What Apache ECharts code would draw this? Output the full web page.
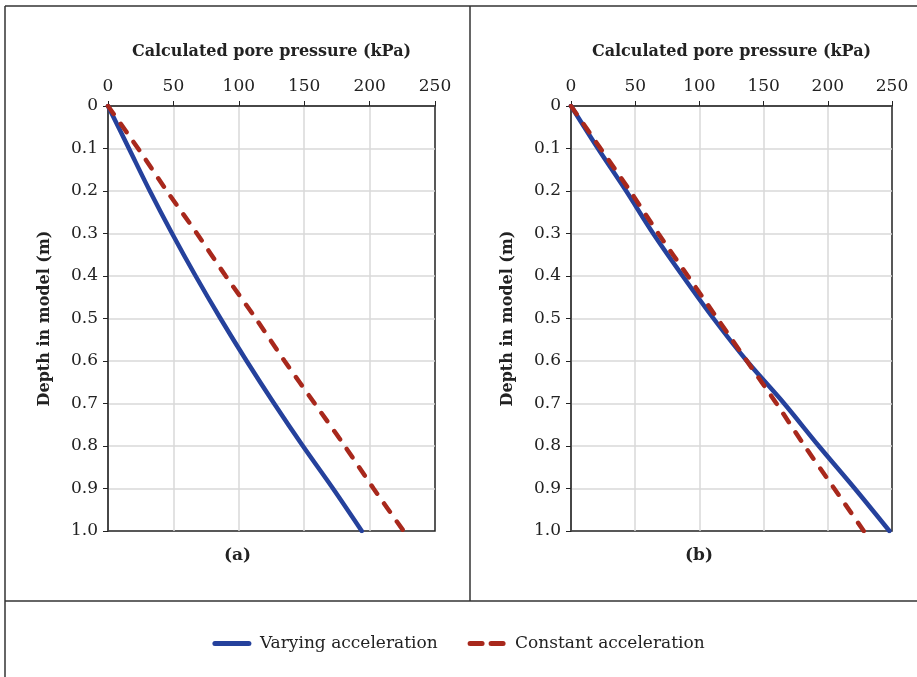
<!DOCTYPE html>
<html>
<head>
<meta charset="utf-8">
<script src="https://cdn.jsdelivr.net/npm/echarts@6/dist/echarts.min.js"></script>
<style>
html,body{margin:0;padding:0;background:#fff;}
#chart{width:917px;height:677px;}
</style>
</head>
<body>
<div id="chart"></div>
<script>
// Data
var depths = [0, 0.1, 0.2, 0.3, 0.4, 0.5, 0.6, 0.7, 0.8, 0.9, 1.0];
var varyingA = [0, 16, 32, 49, 67, 86, 106, 127, 149, 172, 194];
var constantA = [0, 23, 45, 68, 90, 113, 135, 158, 181, 203, 226];
var varyingB = [0, 21, 43, 64, 87, 111, 137, 166, 193, 221, 248];
var constantB = [0, 23, 46, 68, 91, 114, 137, 160, 182, 205, 228];
var seriesNames = ['Varying acceleration', 'Constant acceleration'];
var panelLabels = ['(a)', '(b)'];
var xTitle = 'Calculated pore pressure (kPa)';
var yTitle = 'Depth in model (m)';

var FONT = '"DejaVu Serif", serif';
var BLUE = '#25419c';
var RED = '#a8281c';

function pairs(xs) { return xs.map(function (v, i) { return [v, depths[i]]; }); }

function xAxis(gi) {
  return {
    gridIndex: gi, type: 'value', position: 'top', min: 0, max: 250, interval: 50,
    name: xTitle, nameLocation: 'middle', nameGap: 46, nameMoveOverlap: false,
    nameTextStyle: { fontFamily: FONT, fontSize: 16, fontWeight: 'bold', color: '#222' },
    axisLine: { show: true, onZero: false, lineStyle: { color: '#222', width: 1.5 } },
    axisTick: { show: true, inside: false, length: 5, lineStyle: { color: '#222' } },
    axisLabel: { fontFamily: FONT, fontSize: 17, color: '#222', margin: 11 },
    splitLine: { show: true, showMaxLine: false, lineStyle: { color: '#d9d9d9', width: 1.5 } }
  };
}
function yAxis(gi) {
  return {
    gridIndex: gi, type: 'value', inverse: true, min: 0, max: 1, interval: 0.1,
    name: yTitle, nameLocation: 'middle', nameGap: 55, nameRotate: 90, nameMoveOverlap: false,
    nameTextStyle: { fontFamily: FONT, fontSize: 16, fontWeight: 'bold', color: '#222' },
    axisLine: { show: true, onZero: false, lineStyle: { color: '#222', width: 1.5 } },
    axisTick: { show: true, inside: false, length: 5, lineStyle: { color: '#222' } },
    axisLabel: { fontFamily: FONT, fontSize: 17, color: '#222', margin: 10,
      formatter: function (v) { return v === 0 ? '0' : v.toFixed(1); } },
    splitLine: { show: true, showMaxLine: false, lineStyle: { color: '#d9d9d9', width: 1.5 } }
  };
}
function blueSeries(gi, data) {
  return { name: seriesNames[0], type: 'line', xAxisIndex: gi, yAxisIndex: gi, data: pairs(data),
    symbol: 'none', smooth: 0.3, lineStyle: { color: BLUE, width: 4.5, cap: 'round' }, itemStyle: { color: BLUE }, z: 3 };
}
function redSeries(gi, data) {
  return { name: seriesNames[1], type: 'line', xAxisIndex: gi, yAxisIndex: gi, data: pairs(data),
    symbol: 'none', smooth: 0.3, lineStyle: { color: RED, width: 4.5, type: [10, 12], cap: 'round' }, itemStyle: { color: RED }, z: 4 };
}

var lineStyle = { stroke: '#333', lineWidth: 1.5 };
var chart = echarts.init(document.getElementById('chart'), null, { renderer: 'canvas' });
chart.setOption({
  backgroundColor: '#fff',
  animation: false,
  grid: [
    { left: 108, right: 482, top: 106, bottom: 146, show: true, borderColor: '#222', borderWidth: 1.5, backgroundColor: 'transparent' },
    { left: 571, right: 25, top: 106, bottom: 146, show: true, borderColor: '#222', borderWidth: 1.5, backgroundColor: 'transparent' }
  ],
  xAxis: [xAxis(0), xAxis(1)],
  yAxis: [yAxis(0), yAxis(1)],
  legend: {
    data: [
      { name: seriesNames[0] },
      { name: seriesNames[1], lineStyle: { type: [12, 9] } }
    ],
    left: 'center', top: 630, itemWidth: 34, itemHeight: 10, itemGap: 30,
    itemStyle: { opacity: 0 },
    lineStyle: { width: 5, cap: 'round' },
    textStyle: { fontFamily: FONT, fontSize: 17, color: '#222', padding: [0, 0, 0, 6] }
  },
  graphic: [
    { type: 'line', shape: { x1: 5, y1: 6, x2: 5, y2: 677 }, style: lineStyle },
    { type: 'line', shape: { x1: 5, y1: 6, x2: 917, y2: 6 }, style: lineStyle },
    { type: 'line', shape: { x1: 470, y1: 6, x2: 470, y2: 601 }, style: lineStyle },
    { type: 'line', shape: { x1: 5, y1: 601, x2: 917, y2: 601 }, style: lineStyle },
    { type: 'text', left: 224, top: 547, style: { text: panelLabels[0], font: 'bold 17px "DejaVu Serif", serif', fill: '#222' } },
    { type: 'text', left: 685, top: 547, style: { text: panelLabels[1], font: 'bold 17px "DejaVu Serif", serif', fill: '#222' } }
  ],
  series: [blueSeries(0, varyingA), redSeries(0, constantA), blueSeries(1, varyingB), redSeries(1, constantB)]
});
</script>
</body>
</html>
